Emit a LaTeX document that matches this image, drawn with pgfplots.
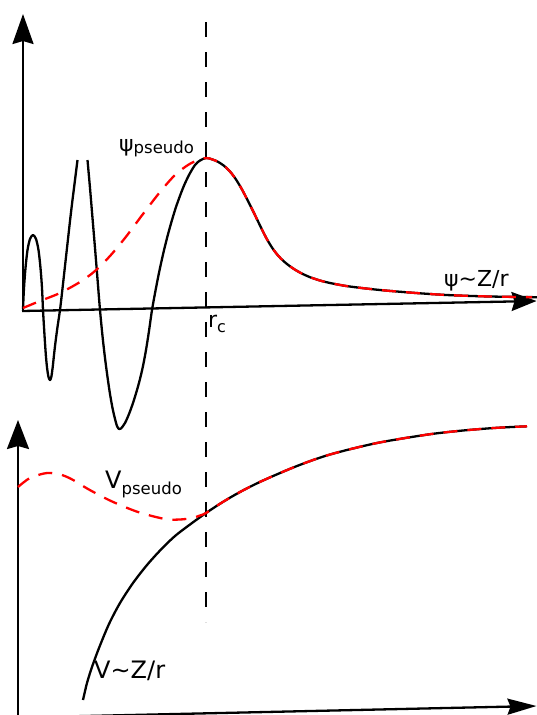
\documentclass[border=0pt]{standalone}
\usepackage{fontspec}
\setmainfont{DejaVu Sans}
\usepackage{pgfplots}
\pgfplotsset{compat=1.18}
\usetikzlibrary{arrows.meta}
\begin{document}
\begin{tikzpicture}
\begin{axis}[
  scale only axis, width=537pt, height=715pt,
  xmin=0, xmax=537, ymin=0, ymax=715, y dir=reverse,
  hide axis, clip=false,
  every axis plot/.append style={line width=2.3pt, line join=round},
]
% bounding box corners
\path (axis cs:0,0) coordinate (BL) (axis cs:537,715) coordinate (TR);
% axes
\addplot[black, -{Stealth[length=30pt,width=21pt,inset=3pt]}] coordinates {(23,312) (23,14)};
\addplot[black, -{Stealth[length=25pt,width=19pt,inset=3pt]}] coordinates {(22,311) (536.5,301)};
\addplot[black, -{Stealth[length=29pt,width=22pt,inset=3pt]}] coordinates {(18,720) (18,420)};
\addplot[black, -{Stealth[length=29pt,width=16pt,inset=3pt]}] coordinates {(18,717.5) (536.5,706)};
% r_c line
\addplot[black, dash pattern=on 15pt off 15pt] coordinates {(206,22) (206,622)};
% psi all-electron
\addplot[black, smooth] coordinates {
(23,309) (24,288) (25.5,268) (27.5,250) (30,239) (33,235) (36,239) (38.5,250) (40.5,268) (42,288) (43,310)
(44,327) (45,343) (46,357) (47.2,369) (48.5,377) (50,380) (51.3,377) (52.6,368) (54,355) (55.5,342) (57.5,327)
(60,310) (62,293) (64,275) (66,257) (68,239) (70,221) (72,204) (74,188) (76,172) (77.5,160)};
\addplot[black, smooth] coordinates {
(87.5,160) (90,188) (92.5,218) (95,248) (97.5,279) (100,310) (102.5,336) (105,358) (107.5,377) (110,394)
(112.5,408) (115,419) (117,426) (119,429) (121,428.5) (125,423) (129,414) (133,403) (137,390) (140,379)
(143,366) (146,350) (149,331) (152,310) (156,288) (160,268) (165,246) (170,227) (176,207) (183,188)
(189,175) (195,165) (200,160.5) (206,158) (212,159.3) (218,161.8) (224,165.8) (230,171.5) (236,179.5)
(242,189.5) (248,201) (254,213) (260,225.5) (266,237.5) (272,247.5) (278,255.5) (284,261.5) (290,266.3)
(296,270.3) (302,273.6) (310,277.2) (320,280.5) (330,283) (345,285.8) (360,287.8) (380,290) (403,292)
(430,294) (453,295.3) (490,296.5) (537,297.2)};
% psi pseudo
\addplot[red, smooth, dash pattern=on 14pt off 10pt] coordinates {
(23,308) (40,301) (60,293) (80,282) (95,271) (110,256) (125,238) (143,214) (160,192) (175,175)
(188,165) (198,160) (206,158) (212,159.3) (218,161.8) (224,165.8) (230,171.5) (236,179.5)
(242,189.5) (248,201) (254,213) (260,225.5) (266,237.5) (272,247.5) (278,255.5) (284,261.5) (290,266.3)
(296,270.3) (302,273.6) (310,277.2) (320,280.5) (330,283) (345,285.8) (360,287.8) (380,290) (403,292)
(430,294) (453,295.3) (490,296.5) (532,297.2)};
% V all-electron
\addplot[black, smooth] coordinates {
(83,700) (87,683) (92,667) (99,648) (109,624) (120,603) (133,583) (147,565) (161,549.5) (175,536)
(190,524.5) (206,513) (222,502.5) (240,492) (263,480.5) (297,466) (330,454.5) (377,443) (428,434.5)
(463,430.5) (497,427.8) (527,426.3)};
% V pseudo
\addplot[red, smooth, dash pattern=on 14pt off 10pt] coordinates {
(18,487) (30,478) (47,473) (62,475) (75,481) (88,489) (111,501) (138,512) (165,519) (180,519.5)
(192,518) (200,515.5) (206,513) (222,502.5) (240,492) (263,480.5) (297,466) (330,454.5) (377,443) (428,434.5)
(463,430.5) (497,427.8) (527,426.3)};
% labels
\node[anchor=base west, inner sep=0pt, font=\fontsize{22}{26}\selectfont] at (axis cs:119,151)
  {ψ\raisebox{-2pt}{\fontsize{16.5}{18}\selectfont pseudo}};
\node[anchor=base west, inner sep=0pt, font=\fontsize{22}{26}\selectfont] at (axis cs:208,327)
  {r\raisebox{-5pt}{\fontsize{16}{18}\selectfont c}};
\node[anchor=base west, inner sep=0pt, font=\fontsize{22}{26}\selectfont] at (axis cs:444,286)
  {ψ\textasciitilde Z/r};
\node[anchor=base west, inner sep=0pt, font=\fontsize{24}{28}\selectfont] at (axis cs:105,488)
  {V\raisebox{-6pt}{\fontsize{16.5}{18}\selectfont pseudo}};
\node[anchor=base west, inner sep=0pt, font=\fontsize{24}{28}\selectfont] at (axis cs:94,678)
  {V\textasciitilde Z/r};
\end{axis}
\pgfresetboundingbox
\useasboundingbox (BL) rectangle (TR);
\end{tikzpicture}
\end{document}
